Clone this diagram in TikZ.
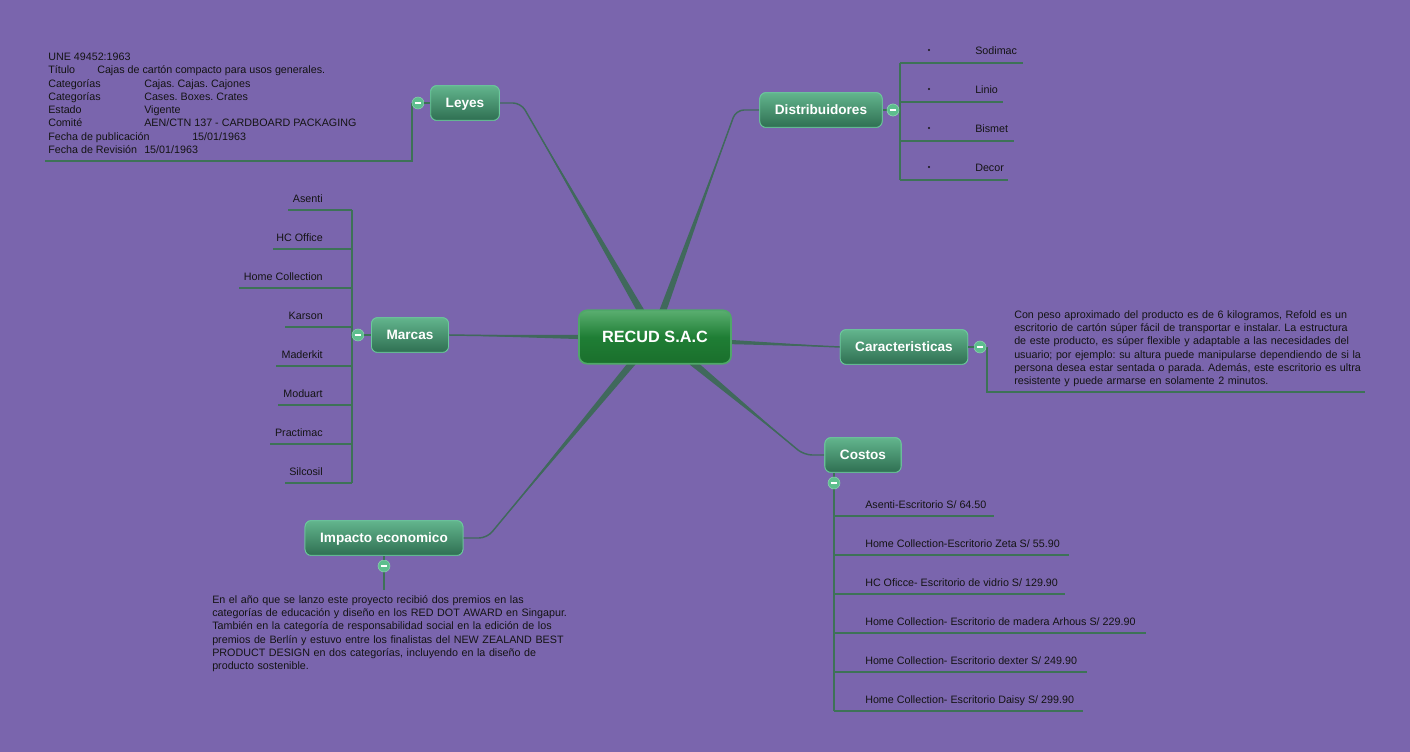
\documentclass[tikz,border=0pt]{standalone}
\usepackage{fontspec}
\setmainfont{Liberation Sans}
\usetikzlibrary{calc}
\frenchspacing
\definecolor{bgc}{HTML}{7A65AD}
\definecolor{connc}{HTML}{40695C}
\definecolor{subc}{HTML}{3D7257}
\definecolor{txt}{HTML}{141414}
\definecolor{toptop}{HTML}{62B58D}
\definecolor{topbot}{HTML}{2F6F52}
\definecolor{topbrd}{HTML}{6CC99D}
\definecolor{ctop}{HTML}{5AAE70}
\definecolor{cmid}{HTML}{1F7E35}
\definecolor{cbot}{HTML}{1A6F2C}
\definecolor{cbrd}{HTML}{4FA868}
\definecolor{circ}{HTML}{5DBE8E}
\newcommand\taperto[3]{\fill[connc] (#1) -- ($(#2)!#3!90:(#1)$) -- ($(#2)!#3!-90:(#1)$) -- cycle;}
\tikzset{
  topic/.style={draw=topbrd, line width=0.6pt, top color=toptop, bottom color=topbot,
    rounded corners=4.5pt, minimum height=26pt, inner xsep=11.3pt, inner ysep=0pt,
    text height=7.2pt, text depth=0pt,
    text=white, font=\fontsize{10.2pt}{12pt}\selectfont\bfseries},
  central/.style={draw=cbrd, line width=1.3pt, top color=ctop, bottom color=cbot, middle color=cmid,
    rounded corners=6pt, minimum height=40pt, minimum width=114pt, inner ysep=0pt,
    text height=8.8pt, text depth=0pt,
    text=white, font=\fontsize{12.2pt}{14pt}\selectfont\bfseries},
  collapse/.style={circle, fill=circ, draw=circ!70!white, line width=0.4pt, minimum size=9pt, inner sep=0pt},
  conn/.style={draw=connc, line width=1.1pt, rounded corners=6pt},
  sub/.style={draw=subc, line width=0.8pt},
  lbl/.style={inner sep=0pt, text=txt, font=\fontsize{8.05pt}{9.9pt}\selectfont},
  para/.style={lbl, text width=400pt, align=left},
}
\newcommand\mn{{\color{white}\rule[-0.65pt]{5pt}{1.3pt}}}
\begin{document}
\begin{tikzpicture}[x=0.75pt,y=-0.75pt]
\useasboundingbox (0,0) rectangle (1410,752);
\fill[bgc] (0,0) rectangle (1410,752);

% coordinates on the central topic
\coordinate (cLe) at (642,313);
\coordinate (cDi) at (662,313);
\coordinate (cMa) at (581,337);
\coordinate (cCa) at (730,342);
\coordinate (cCo) at (692,362);
\coordinate (cIm) at (633,362);
\coordinate (kLe) at (521,103);
\coordinate (kDi) at (736,110);
\coordinate (kCo) at (804,455);
\coordinate (kIm) at (487,538);

% topics (placed first to name them)
\node[topic] (Leyes) at (465,103) {Leyes};
\node[topic] (Dist) at (821,110) {Distribuidores};
\node[topic] (Car) at (904,347) {Caracteristicas};
\node[topic] (Costos) at (863,455) {Costos};
\node[topic] (Marcas) at (410,335) {Marcas};
\node[topic] (Imp) at (384,538) {Impacto economico};

% main connectors
\path[conn] (Leyes.east) -- (kLe) -- (cLe);
\taperto{$(kLe)!0.1!(cLe)$}{cLe}{2.6pt}
\path[conn] (Dist.west) -- (kDi) -- (cDi);
\taperto{$(kDi)!0.1!(cDi)$}{cDi}{2.6pt}
\path[conn] (Costos.west) -- (kCo) -- (cCo);
\taperto{$(kCo)!0.1!(cCo)$}{cCo}{2.6pt}
\path[conn] (Imp.east) -- (kIm) -- (cIm);
\taperto{$(kIm)!0.1!(cIm)$}{cIm}{2.6pt}
\path[conn] (Marcas.east) -- (cMa);
\taperto{Marcas.east}{cMa}{1.6pt}
\path[conn] (Car.west) -- (cCa);
\taperto{Car.west}{cCa}{1.6pt}

% redraw topics over connectors
\node[topic] at (Leyes) {Leyes};
\node[topic] at (Dist) {Distribuidores};
\node[topic] at (Car) {Caracteristicas};
\node[topic] at (Costos) {Costos};
\node[topic] at (Marcas) {Marcas};
\node[topic] at (Imp) {Impacto economico};
\node[central] (C) at (655,337) {RECUD S.A.C};

% collapse buttons and branch lines
\coordinate (vL) at (412,103);
\draw[sub] (vL) -- (412,161) -- (45,161);
\node[collapse] (cirL) at (418,103) {\mn};
\draw[sub] (cirL) -- (Leyes);

\node[collapse] (cirD) at (893,110) {};
\draw[sub] (Dist) -- (cirD);
\draw[sub] (900,63) -- (900,180);
\draw[sub] (900,63) -- (1023,63);
\draw[sub] (900,102) -- (1003,102);
\draw[sub] (900,141) -- (1014,141);
\draw[sub] (900,180) -- (1008,180);
\node[collapse] at (cirD) {\mn};

\draw[sub] (987,347) -- (987,392) -- (1365,392);
\node[collapse] (cirCa) at (980,347) {\mn};
\draw[sub] (Car) -- (cirCa);

\draw[sub] (834,473) -- (834,711);
\draw[sub] (834,516) -- (994,516);
\draw[sub] (834,555) -- (1069,555);
\draw[sub] (834,594) -- (1065,594);
\draw[sub] (834,633) -- (1146,633);
\draw[sub] (834,672) -- (1087,672);
\draw[sub] (834,711) -- (1083,711);
\node[collapse] (cirCo) at (834,483) {\mn};

\draw[sub] (352,210) -- (352,483);
\draw[sub] (288,210) -- (352,210);
\draw[sub] (273,249) -- (352,249);
\draw[sub] (239,288) -- (352,288);
\draw[sub] (285,327) -- (352,327);
\draw[sub] (276,366) -- (352,366);
\draw[sub] (278,405) -- (352,405);
\draw[sub] (270,444) -- (352,444);
\draw[sub] (285,483) -- (352,483);
\node[collapse] (cirM) at (358,335) {\mn};
\draw[sub] (cirM) -- (Marcas);

\draw[sub] (384,566) -- (384,590);
\node[collapse] (cirI) at (384,566) {\mn};
\draw[sub] (cirI) -- (Imp);

% Leyes text
\node[lbl, anchor=base west] (l1) at (48,60.5) {UNE 49452:1963};
\node[lbl, anchor=base west] (l2a) at (48,73.8) {Título};
\node[lbl, anchor=base west] (l2b) at (97,73.8) {Cajas de cartón compacto para usos generales.};
\node[lbl, anchor=base west] (l3a) at (48,87.1) {Categorías};
\node[lbl, anchor=base west] (l3b) at (144,87.1) {Cajas. Cajas. Cajones};
\node[lbl, anchor=base west] (l4a) at (48,100.4) {Categorías};
\node[lbl, anchor=base west] (l4b) at (144,100.4) {Cases. Boxes. Crates};
\node[lbl, anchor=base west] (l5a) at (48,113.7) {Estado};
\node[lbl, anchor=base west] (l5b) at (144,113.7) {Vigente};
\node[lbl, anchor=base west] (l6a) at (48,127) {Comité};
\node[lbl, anchor=base west] (l6b) at (144,127) {AEN/CTN 137 - CARDBOARD PACKAGING};
\node[lbl, anchor=base west] (l7a) at (48,140.3) {Fecha de publicación};
\node[lbl, anchor=base west] (l7b) at (192,140.3) {15/01/1963};
\node[lbl, anchor=base west] (l8a) at (48,153.6) {Fecha de Revisión};
\node[lbl, anchor=base west] (l8b) at (144,153.6) {15/01/1963};

% Distribuidores
\foreach \y/\t [count=\i] in {54.5/Sodimac,93.5/Linio,132.5/Bismet,171.5/Decor}{
  \node[lbl, anchor=base west] (d\i) at (975,\y) {\t};
  \fill[txt] (929,\y-4.5) circle (1.2);
}

% Marcas
\foreach \y/\t [count=\i] in {202.5/Asenti,241.5/HC Office,280.5/Home Collection,319.5/Karson,358.5/Maderkit,397.5/Moduart,436.5/Practimac,475.5/Silcosil}{
  \node[lbl, anchor=base east] (m\i) at (323,\y) {\t};
}

% Costos
\node[lbl, anchor=base west] (k1) at (865,508.5) {Asenti-Escritorio S/ 64.50};
\node[lbl, anchor=base west] (k2) at (865,547.5) {Home Collection-Escritorio Zeta S/ 55.90};
\node[lbl, anchor=base west] (k3) at (865,586.5) {HC Oficce- Escritorio de vidrio S/ 129.90};
\node[lbl, anchor=base west] (k4) at (865,625.5) {Home Collection- Escritorio de madera Arhous S/ 229.90};
\node[lbl, anchor=base west] (k5) at (865,664.5) {Home Collection- Escritorio dexter S/ 249.90};
\node[lbl, anchor=base west] (k6) at (865,703.5) {Home Collection- Escritorio Daisy S/ 299.90};

% Caracteristicas paragraph
\node[para, anchor=base west] (ptxt) at (1014,318.5) {Con peso aproximado del producto es de 6 kilogramos, Refold es un\\
escritorio de cartón súper fácil de transportar e instalar. La estructura\\
de este producto, es súper flexible y adaptable a las necesidades del\\
usuario; por ejemplo: su altura puede manipularse dependiendo de si la\\
persona desea estar sentada o parada. Además, este escritorio es ultra\\
resistente y puede armarse en solamente 2 minutos.};

% Impacto paragraph
\node[para, anchor=base west] (itxt) at (212,603.5) {En el año que se lanzo este proyecto recibió dos premios en las\\
categorías de educación y diseño en los RED DOT AWARD en Singapur.\\
También en la categoría de responsabilidad social en la edición de los\\
premios de Berlín y estuvo entre los finalistas del NEW ZEALAND BEST\\
PRODUCT DESIGN en dos categorías, incluyendo en la diseño de\\
producto sostenible.};
\end{tikzpicture}
\end{document}
